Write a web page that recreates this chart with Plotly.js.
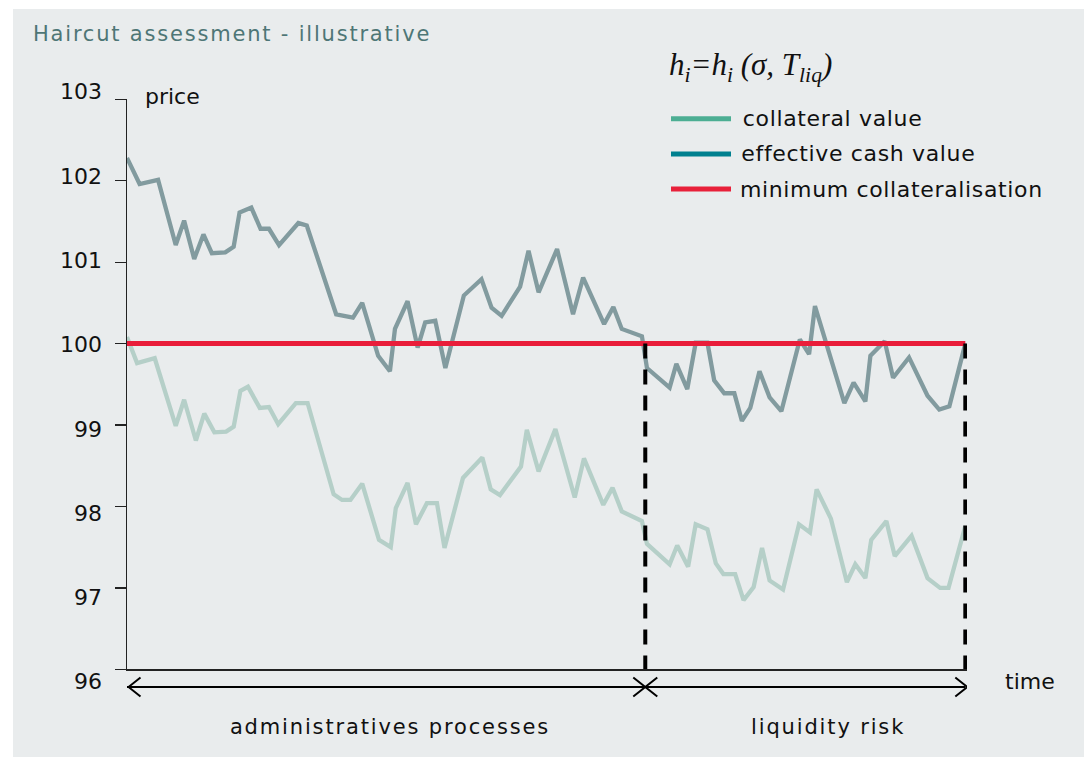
<!DOCTYPE html>
<html>
<head>
<meta charset="utf-8">
<script src="https://cdn.plot.ly/plotly-3.0.1.min.js"></script>
<style>
  html, body { margin: 0; padding: 0; background: #ffffff; }
  #chart { width: 1088px; height: 758px; }
  .gtitle { letter-spacing: 1.8px; }
  .annotation[data-index="1"] text,
  .annotation[data-index="2"] text,
  .annotation[data-index="3"] text { letter-spacing: 0.65px; }
  .annotation[data-index="6"] text,
  .annotation[data-index="7"] text { letter-spacing: 1.85px; }
</style>
</head>
<body>
<div id="chart"></div>
<script>
// ---------------- data ----------------
const chartTitle = 'Haircut assessment - illustrative';
const seriesNames = ['collateral value', 'effective cash value', 'minimum collateralisation'];
const phaseLabels = ['administratives processes', 'liquidity risk'];
const yTicks = [96, 97, 98, 99, 100, 101, 102, 103];
const yTickText = ['96', '97', '98', '99', '100', '101', '102', '103'];

// effective cash value (upper line)
const cashTime = [0.0, 1.5, 3.7, 5.8, 6.8, 8.0, 9.1, 10.1, 11.7, 12.7, 13.4, 14.8, 15.9, 16.9, 18.1, 20.4, 21.4,
  24.9, 26.9, 28.0, 29.9, 31.3, 31.9, 33.4, 34.6, 35.5, 36.7, 37.9, 40.1, 42.2, 43.4, 44.6, 46.8, 47.8, 49.0,
  51.2, 53.1, 54.3, 56.8, 57.9, 58.9, 61.3, 61.9, 64.6, 65.4, 66.7, 67.7, 69.1, 69.9, 71.1, 72.3, 73.2, 74.2,
  75.3, 76.5, 77.9, 80.1, 81.2, 81.9, 85.4, 86.5, 87.9, 88.5, 90.2, 91.2, 93.1, 95.3, 96.7, 97.9, 99.8];
const cashValue = [102.28, 101.96, 102.01, 101.21, 101.51, 101.04, 101.34, 101.11, 101.12, 101.19, 101.61, 101.67,
  101.41, 101.41, 101.21, 101.48, 101.45, 100.36, 100.32, 100.50, 99.85, 99.66, 100.18, 100.52, 99.95, 100.26,
  100.28, 99.70, 100.59, 100.79, 100.44, 100.34, 100.70, 101.14, 100.63, 101.16, 100.36, 100.81, 100.24, 100.45,
  100.18, 100.09, 99.70, 99.46, 99.75, 99.44, 100.01, 100.01, 99.55, 99.39, 99.39, 99.05, 99.21, 99.66, 99.34,
  99.17, 100.05, 99.87, 100.46, 99.27, 99.52, 99.29, 99.85, 100.03, 99.58, 99.83, 99.36, 99.19, 99.23, 100.00];

// collateral value (lower line)
const collTime = [0.0, 1.2, 3.3, 5.8, 6.8, 8.2, 9.2, 10.4, 11.8, 12.7, 13.5, 14.4, 15.8, 16.9, 18.0, 20.1, 21.5,
  24.6, 25.6, 26.6, 28.0, 30.0, 31.4, 32.0, 33.4, 34.4, 35.7, 36.9, 37.8, 40.0, 42.3, 43.3, 44.4, 46.9, 47.6,
  49.0, 51.0, 53.3, 54.4, 56.7, 57.8, 58.9, 61.3, 61.9, 64.6, 65.5, 66.8, 67.7, 69.1, 70.1, 71.0, 72.4, 73.4,
  74.6, 75.6, 76.5, 78.1, 80.0, 81.3, 82.1, 83.8, 85.7, 86.7, 87.9, 88.6, 90.4, 91.4, 93.4, 95.3, 96.8, 97.8, 99.8];
const collValue = [100.08, 99.76, 99.82, 98.99, 99.31, 98.81, 99.14, 98.91, 98.92, 98.98, 99.42, 99.47, 99.21,
  99.22, 99.01, 99.27, 99.27, 98.15, 98.08, 98.08, 98.28, 97.59, 97.50, 97.98, 98.29, 97.78, 98.04, 98.04, 97.49,
  98.35, 98.60, 98.21, 98.14, 98.49, 98.94, 98.43, 98.95, 98.11, 98.59, 98.02, 98.23, 97.94, 97.82, 97.54, 97.29,
  97.52, 97.26, 97.78, 97.72, 97.30, 97.17, 97.17, 96.85, 97.01, 97.49, 97.09, 96.98, 97.78, 97.68, 98.21, 97.85,
  97.07, 97.29, 97.12, 97.59, 97.82, 97.39, 97.64, 97.12, 97.00, 97.00, 97.76];

const minCollateral = 100;
const timeStart = 0;
const phaseBoundaries = [61.7, 99.8];   // end of administrative phase, end of liquidity phase
const priceFloor = 96;

// ---------------- layout helpers ----------------
const W = 1088, H = 758;
const px = x => x / W;
const py = y => (H - y) / H;
const FONT = 'DejaVu Sans, Liberation Sans, sans-serif';

const cLower = '#b5cfc8', cUpper = '#829b9f', cRed = '#e91d3a';
const legendColors = ['#4cae93', '#00808f', '#e8203a'];

const traces = [
  { x: collTime, y: collValue, type: 'scatter', mode: 'lines', name: seriesNames[0],
    line: { color: cLower, width: 4.3 }, hoverinfo: 'skip', showlegend: false },
  { x: cashTime, y: cashValue, type: 'scatter', mode: 'lines', name: seriesNames[1],
    line: { color: cUpper, width: 4.3 }, hoverinfo: 'skip', showlegend: false },
  { x: [timeStart, phaseBoundaries[1]], y: [minCollateral, minCollateral], type: 'scatter', mode: 'lines',
    name: seriesNames[2], line: { color: cRed, width: 5 }, hoverinfo: 'skip', showlegend: false },
  { x: [phaseBoundaries[0], phaseBoundaries[0]], y: [minCollateral, priceFloor], type: 'scatter', mode: 'lines',
    line: { color: '#000', width: 4, dash: '15px,11px' }, hoverinfo: 'skip', showlegend: false },
  { x: [phaseBoundaries[1], phaseBoundaries[1]], y: [minCollateral, priceFloor], type: 'scatter', mode: 'lines',
    line: { color: '#000', width: 4, dash: '15px,11px' }, hoverinfo: 'skip', showlegend: false },
  // empty trace that attaches the tick-label axis (yaxis2) to the plot
  { x: [null], y: [null], yaxis: 'y2', type: 'scatter', mode: 'lines', hoverinfo: 'skip', showlegend: false }
];

const axisBaseY = py(669.3);
const arrowDY = -17.7;
const shapes = [
  // panel background
  { type: 'rect', xref: 'paper', yref: 'paper', x0: px(13), x1: px(1084), y0: py(757), y1: py(9),
    fillcolor: '#e9eced', line: { width: 0 }, layer: 'below' },
  // time arrow line
  { type: 'line', xref: 'x', yref: 'paper', x0: timeStart, x1: phaseBoundaries[1],
    ysizemode: 'pixel', yanchor: axisBaseY, y0: arrowDY, y1: arrowDY, line: { color: '#000', width: 2 } },
  // left arrowhead
  { type: 'path', xref: 'x', yref: 'paper', xsizemode: 'pixel', xanchor: timeStart,
    ysizemode: 'pixel', yanchor: axisBaseY,
    path: 'M13.5,' + (arrowDY + 9.5) + ' L1.5,' + arrowDY + ' L13.5,' + (arrowDY - 9.5),
    line: { color: '#000', width: 2 } },
  // middle cross
  { type: 'path', xref: 'x', yref: 'paper', xsizemode: 'pixel', xanchor: phaseBoundaries[0],
    ysizemode: 'pixel', yanchor: axisBaseY,
    path: 'M-12,' + (arrowDY + 9.5) + ' L0,' + arrowDY + ' L-12,' + (arrowDY - 9.5) +
          ' M12,' + (arrowDY + 9.5) + ' L0,' + arrowDY + ' L12,' + (arrowDY - 9.5),
    line: { color: '#000', width: 2 } },
  // right arrowhead
  { type: 'path', xref: 'x', yref: 'paper', xsizemode: 'pixel', xanchor: phaseBoundaries[1],
    ysizemode: 'pixel', yanchor: axisBaseY,
    path: 'M-10,' + (arrowDY + 9.5) + ' L2,' + arrowDY + ' L-10,' + (arrowDY - 9.5),
    line: { color: '#000', width: 2 } }
];
// legend samples
[118.7, 154, 189].forEach((y, i) => {
  shapes.push({ type: 'line', xref: 'paper', yref: 'paper', x0: px(671), x1: px(731), y0: py(y), y1: py(y),
    line: { color: legendColors[i], width: 5 } });
});

const annotations = [
  { xref: 'paper', yref: 'paper', x: px(667), y: py(67), xanchor: 'left', yanchor: 'middle', showarrow: false,
    text: '<i>h<sub>i</sub>=h<sub>i</sub> (σ, T<sub>liq</sub>)</i>',
    font: { family: 'Liberation Serif, DejaVu Serif, serif', size: 31, color: '#111' } },
  { xref: 'paper', yref: 'paper', x: px(746), y: py(118.7), xanchor: 'left', yanchor: 'middle', showarrow: false,
    text: seriesNames[0], font: { family: FONT, size: 22, color: '#111' } },
  { xref: 'paper', yref: 'paper', x: px(746), y: py(154), xanchor: 'left', yanchor: 'middle', showarrow: false,
    text: seriesNames[1], font: { family: FONT, size: 22, color: '#111' } },
  { xref: 'paper', yref: 'paper', x: px(746), y: py(189), xanchor: 'left', yanchor: 'middle', showarrow: false,
    text: seriesNames[2], font: { family: FONT, size: 22, color: '#111' } },
  { xref: 'paper', yref: 'paper', x: px(143), y: py(96), xanchor: 'left', yanchor: 'middle', showarrow: false,
    text: 'price', font: { family: FONT, size: 22, color: '#111' } },
  { xref: 'paper', yref: 'paper', x: px(1003), y: py(681), xanchor: 'left', yanchor: 'middle', showarrow: false,
    text: 'time', font: { family: FONT, size: 22, color: '#111' } },
  { xref: 'paper', yref: 'paper', x: px(390), y: py(727), xanchor: 'center', yanchor: 'middle', showarrow: false,
    text: phaseLabels[0], font: { family: FONT, size: 21, color: '#111' } },
  { xref: 'paper', yref: 'paper', x: px(828), y: py(727), xanchor: 'center', yanchor: 'middle', showarrow: false,
    text: phaseLabels[1], font: { family: FONT, size: 21, color: '#111' } }
];

const layout = {
  width: W, height: H, autosize: false,
  margin: { l: 0, r: 0, t: 0, b: 0, pad: 0 },
  paper_bgcolor: '#ffffff', plot_bgcolor: 'rgba(0,0,0,0)',
  title: { text: chartTitle, x: px(33), xanchor: 'left', xref: 'paper', y: py(34), yanchor: 'middle', yref: 'paper',
    font: { family: FONT, size: 21, color: '#4e7676' } },
  showlegend: false,
  xaxis: { domain: [px(127), px(967)], range: [0, 100], showgrid: false, zeroline: false,
    showline: true, linecolor: '#222', linewidth: 1.3, ticks: '', showticklabels: false,
    anchor: 'y', fixedrange: true, automargin: false },
  yaxis: { domain: [py(669.3), py(99.3)], range: [96, 103], showgrid: false, zeroline: false,
    showline: true, linecolor: '#222', linewidth: 1.3, ticks: 'outside', ticklen: 10.7, tickwidth: 1.3,
    tickcolor: '#222', tickvals: yTicks, showticklabels: false, anchor: 'x', fixedrange: true, automargin: false },
  // label axis: tick labels only (as positioned in the original artwork)
  yaxis2: { domain: [py(700), py(80)], range: [95.783, 103.139], anchor: 'x', side: 'left',
    showgrid: false, zeroline: false, showline: false, ticks: '', tickvals: yTicks, ticktext: yTickText,
    ticklabelstandoff: 24, tickfont: { family: FONT, size: 22, color: '#111' }, fixedrange: true, automargin: false },
  shapes: shapes,
  annotations: annotations
};

Plotly.newPlot('chart', traces, layout, { displayModeBar: false, staticPlot: true });
</script>
</body>
</html>
